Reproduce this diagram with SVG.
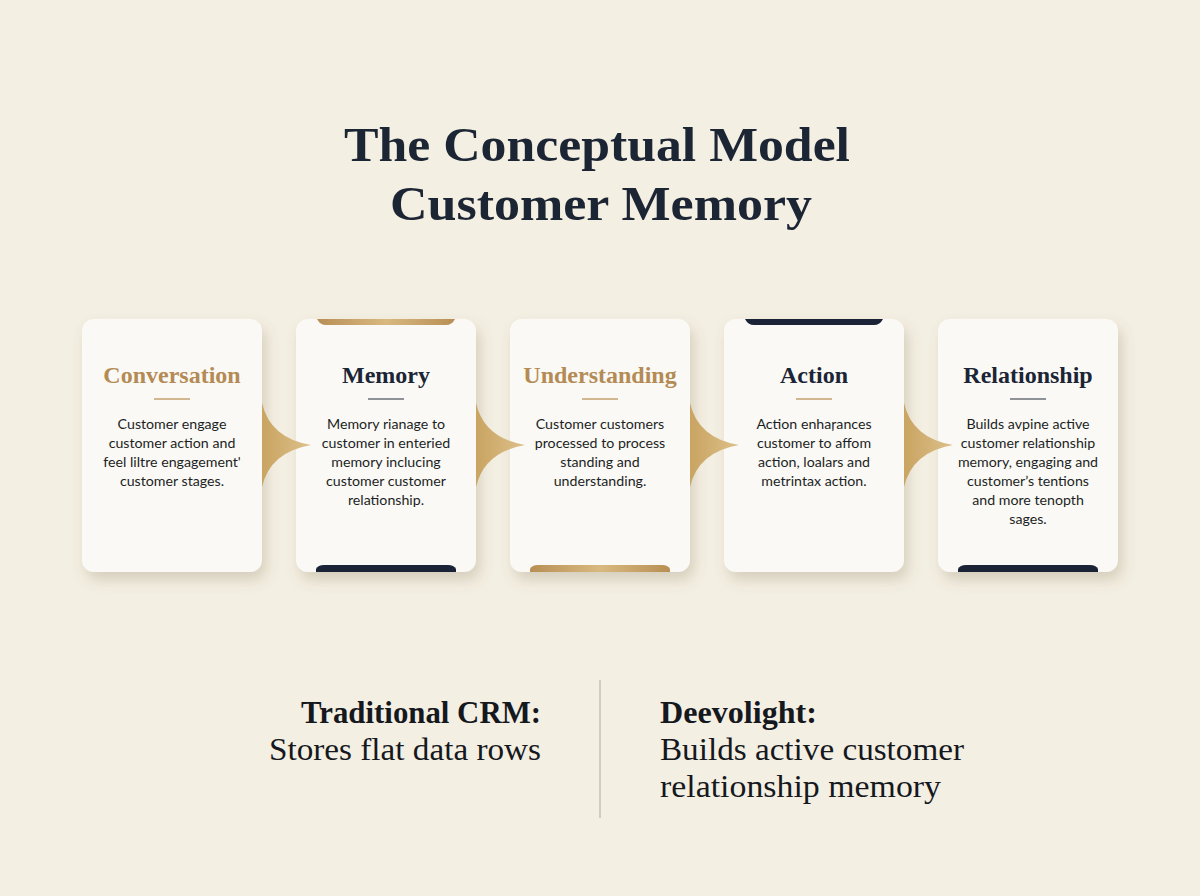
<svg xmlns="http://www.w3.org/2000/svg" width="1200" height="896" viewBox="0 0 1200 896">
<defs>
<filter id="sh" x="-20%" y="-20%" width="150%" height="150%">
<feDropShadow dx="4" dy="8" stdDeviation="7" flood-color="#6b5a3a" flood-opacity="0.22"/>
</filter>
<linearGradient id="gold" x1="0" y1="0" x2="1" y2="0">
<stop offset="0" stop-color="#b88f55"/>
<stop offset="0.5" stop-color="#d8b97f"/>
<stop offset="1" stop-color="#b88f55"/>
</linearGradient>
<linearGradient id="wedge" x1="0" y1="0" x2="1" y2="0">
<stop offset="0" stop-color="#c9a462"/>
<stop offset="1" stop-color="#ddc08a"/>
</linearGradient>
<style>
.bg{fill:#f4efe3}
.card{fill:#faf9f5;filter:url(#sh)}
.ttl{font-family:"Liberation Serif",serif;font-weight:bold;font-size:24px;text-anchor:middle}
.gold{fill:#b48b55}
.navy{fill:#1b2535}
.body{font-family:Lato,"Liberation Sans",sans-serif;font-size:14.2px;fill:#1c1f24;text-anchor:middle}
.head{font-family:"Liberation Serif",serif;font-weight:bold;font-size:48px;fill:#1c2533;text-anchor:middle}
.low{font-family:"Liberation Serif",serif;font-size:31px;fill:#15181d}
.lowb{font-family:"Liberation Serif",serif;font-weight:bold;font-size:31px;fill:#15181d}
.wedge{fill:url(#wedge)}
</style>
</defs>
<rect class="bg" x="0" y="0" width="1200" height="896"/>
<g id="title">
<text class="head" x="597" y="161" textLength="506" lengthAdjust="spacingAndGlyphs">The Conceptual Model</text>
<text class="head" x="601" y="220" textLength="422" lengthAdjust="spacingAndGlyphs">Customer Memory</text>
</g>
<g id="card-conversation">
<rect class="card" x="82" y="319" width="180" height="253" rx="12"/>
<text class="ttl gold" x="172" y="383">Conversation</text>
<line x1="154" y1="399" x2="190" y2="399" stroke="#c2a06c" stroke-width="1.5"/>
<text class="body" x="172" y="429">Customer engage</text>
<text class="body" x="172" y="448">customer action and</text>
<text class="body" x="172" y="467">feel liltre engagement'</text>
<text class="body" x="172" y="486">customer stages.</text>
</g>
<g id="card-memory">
<rect class="card" x="296" y="319" width="180" height="253" rx="12"/>
<path d="M317,319 H455 Q452,325 446,325 H326 Q320,325 317,319 Z" fill="url(#gold)"/>
<path d="M316,572 V569 Q318,565 324,565 H448 Q454,565 456,569 V572 Z" fill="#1b2436"/>
<text class="ttl navy" x="386" y="383">Memory</text>
<line x1="368" y1="399" x2="404" y2="399" stroke="#6b7079" stroke-width="1.5"/>
<text class="body" x="386" y="429">Memory rianage to</text>
<text class="body" x="386" y="448">customer in enteried</text>
<text class="body" x="386" y="467">memory inclucing</text>
<text class="body" x="386" y="486">customer customer</text>
<text class="body" x="386" y="505">relationship.</text>
</g>
<g id="card-understanding">
<rect class="card" x="510" y="319" width="180" height="253" rx="12"/>
<path d="M530,572 V569 Q532,565 538,565 H662 Q668,565 670,569 V572 Z" fill="url(#gold)"/>
<text class="ttl gold" x="600" y="383">Understanding</text>
<line x1="582" y1="399" x2="618" y2="399" stroke="#c2a06c" stroke-width="1.5"/>
<text class="body" x="600" y="429">Customer customers</text>
<text class="body" x="600" y="448">processed to process</text>
<text class="body" x="600" y="467">standing and</text>
<text class="body" x="600" y="486">understanding.</text>
</g>
<g id="card-action">
<rect class="card" x="724" y="319" width="180" height="253" rx="12"/>
<path d="M745,319 H883 Q880,325 874,325 H754 Q748,325 745,319 Z" fill="#1b2436"/>
<text class="ttl navy" x="814" y="383">Action</text>
<line x1="796" y1="399" x2="832" y2="399" stroke="#c2a06c" stroke-width="1.5"/>
<text class="body" x="814" y="429">Action enhaŗances</text>
<text class="body" x="814" y="448">customer to affom</text>
<text class="body" x="814" y="467">action, loalars and</text>
<text class="body" x="814" y="486">metrintax action.</text>
</g>
<g id="card-relationship">
<rect class="card" x="938" y="319" width="180" height="253" rx="12"/>
<path d="M958,572 V569 Q960,565 966,565 H1090 Q1096,565 1098,569 V572 Z" fill="#1b2436"/>
<text class="ttl navy" x="1028" y="383">Relationship</text>
<line x1="1010" y1="399" x2="1046" y2="399" stroke="#6b7079" stroke-width="1.5"/>
<text class="body" x="1028" y="429">Builds avpine active</text>
<text class="body" x="1028" y="448">customer relationship</text>
<text class="body" x="1028" y="467">memory, engaging and</text>
<text class="body" x="1028" y="486">customer’s tentions</text>
<text class="body" x="1028" y="505">and more tenopth</text>
<text class="body" x="1028" y="524">sages.</text>
</g>
<g id="connectors">
<path class="wedge" d="M262,403 Q270,438 311,445 Q270,452 262,487 Z"/>
<path class="wedge" d="M476,403 Q484,438 525,445 Q484,452 476,487 Z"/>
<path class="wedge" d="M690,403 Q698,438 739,445 Q698,452 690,487 Z"/>
<path class="wedge" d="M904,403 Q912,438 953,445 Q912,452 904,487 Z"/>
</g>
<g id="comparison">
<line x1="600" y1="680" x2="600" y2="818" stroke="#c9c2b4" stroke-width="1.5"/>
<text class="lowb" x="541" y="723" text-anchor="end" textLength="240" lengthAdjust="spacingAndGlyphs">Traditional CRM:</text>
<text class="low" x="541" y="760" text-anchor="end" textLength="272" lengthAdjust="spacingAndGlyphs">Stores flat data rows</text>
<text class="lowb" x="660" y="723" textLength="157" lengthAdjust="spacingAndGlyphs">Deevolight:</text>
<text class="low" x="660" y="760" textLength="304" lengthAdjust="spacingAndGlyphs">Builds active customer</text>
<text class="low" x="660" y="797" textLength="281" lengthAdjust="spacingAndGlyphs">relationship memory</text>
</g>
</svg>
